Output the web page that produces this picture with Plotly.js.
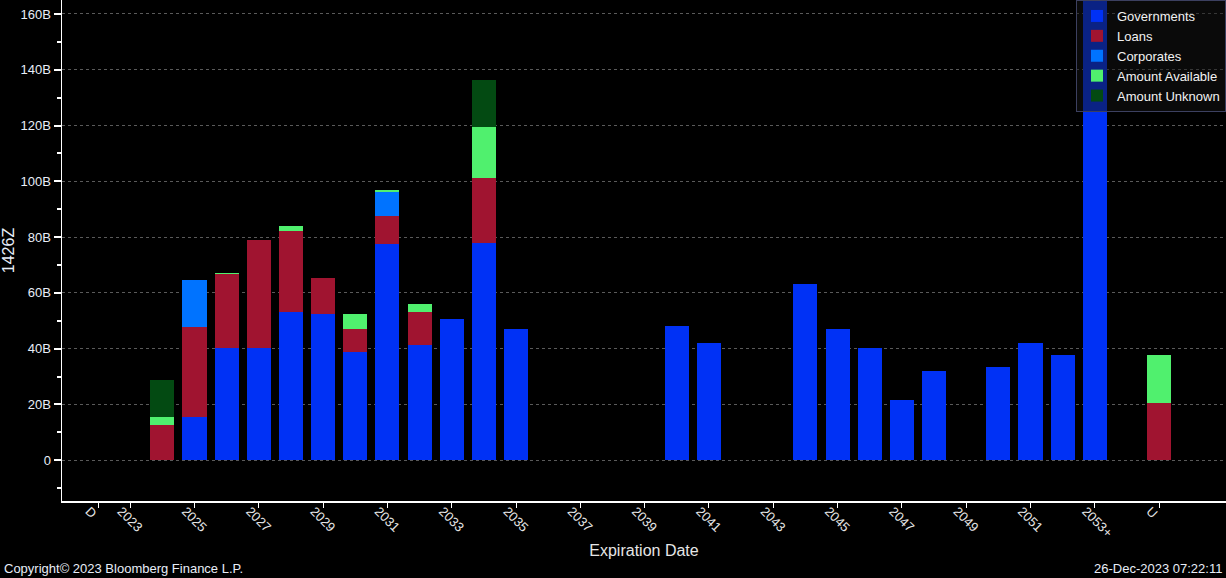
<!DOCTYPE html>
<html>
<head>
<meta charset="utf-8">
<script src="https://cdn.plot.ly/plotly-3.0.1.min.js"></script>
<style>
  html, body { margin: 0; padding: 0; background: #000; }
  #chart { width: 1226px; height: 578px; }
</style>
</head>
<body>
<div id="chart"></div>
<script>
// categories along the x axis (index 32 is an unlabeled slot before U)
const categories = ['D', '2023', '2024', '2025', '2026', '2027', '2028', '2029', '2030', '2031',
    '2032', '2033', '2034', '2035', '2036', '2037', '2038', '2039', '2040', '2041',
    '2042', '2043', '2044', '2045', '2046', '2047', '2048', '2049', '2050', '2051',
    '2052', '2053+', '', 'U'];

// values in billions, one per category (null = no bar)
const governments = [null, null, null, 15.4, 40.4, 40.4, 53.3, 52.6, 38.7, 77.6,
    41.5, 50.8, 78.0, 46.9, null, null, null, null, 48.0, 42.2,
    null, null, 63.3, 47.2, 40.1, 21.5, 31.9, null, 33.3, 42.2,
    37.6, 180, null, null];
const loans = [null, null, 12.5, 32.2, 26.5, 38.6, 28.9, 12.9, 8.2, 10.0,
    11.5, null, 23.2, null, null, null, null, null, null, null,
    null, null, null, null, null, null, null, null, null, null,
    null, null, null, 20.5];
const corporates = [null, null, null, 17.2, null, null, null, null, null, 8.6,
    null, null, null, null, null, null, null, null, null, null,
    null, null, null, null, null, null, null, null, null, null,
    null, null, null, null];
const amountAvailable = [null, null, 2.9, null, 0.4, null, 1.8, null, 5.7, 0.7,
    3.2, null, 18.2, null, null, null, null, null, null, null,
    null, null, null, null, null, null, null, null, null, null,
    null, null, null, 17.1];
const amountUnknown = [null, null, 13.2, null, null, null, null, null, null, null,
    null, null, 17.1, null, null, null, null, null, null, null,
    null, null, null, null, null, null, null, null, null, null,
    null, null, null, null];

// labels shown on the axes
const xTickLabels = ['D', '2023', '2025', '2027', '2029', '2031', '2033', '2035', '2037', '2039',
    '2041', '2043', '2045', '2047', '2049', '2051', '2053+', 'U'];
const yTickValues = [0, 20, 40, 60, 80, 100, 120, 140, 160];

const xIndex = categories.map((c, i) => i);
const font = 'Liberation Sans, Arial, sans-serif';
const textColor = '#e8eef8';

const series = [
    {name: 'Governments', values: governments, color: '#0031f5'},
    {name: 'Loans', values: loans, color: '#a01430'},
    {name: 'Corporates', values: corporates, color: '#0073ff'},
    {name: 'Amount Available', values: amountAvailable, color: '#50f06e'},
    {name: 'Amount Unknown', values: amountUnknown, color: '#034a12'},
];

let dataDraw = series.map(s => ({
    type: 'bar',
    x: xIndex,
    y: s.values,
    name: s.name,
    width: 0.75,
    marker: {color: s.color, line: {width: 0}},
    hoverinfo: 'skip'
}));

let layout = {
    width: 1226,
    height: 578,
    margin: {l: 62, r: 0, t: 0, b: 77},
    paper_bgcolor: '#000',
    plot_bgcolor: '#000',
    barmode: 'stack',
    bargap: 0.25,
    font: {family: font, color: textColor, size: 13},
    showlegend: true,
    legend: {
        x: 1, y: 1, xanchor: 'right', yanchor: 'top',
        traceorder: 'normal',
        bgcolor: 'rgba(20,20,20,0.5)',
        bordercolor: '#3c4060',
        borderwidth: 1,
        font: {family: font, size: 13, color: '#f2f2f2'}
    },
    xaxis: {
        range: [-1.12, 35.08],
        tickmode: 'array',
        tickvals: xTickLabels.map(l => categories.indexOf(l)),
        ticktext: xTickLabels,
        tickangle: 45,
        ticks: 'outside',
        ticklen: 5,
        tickwidth: 1,
        tickcolor: '#ffffff',
        tickfont: {family: font, size: 13, color: '#e6e6e6'},
        ticklabelshift: -9,
        ticklabelstandoff: -9,
        showgrid: false,
        zeroline: false,
        showline: true,
        linecolor: '#ffffff',
        linewidth: 1.5,
        title: {text: 'Expiration Date', font: {family: font, size: 16, color: '#e6e6e6'}, standoff: 5}
    },
    yaxis: {
        range: [-14.6, 165],
        tickmode: 'array',
        tickvals: yTickValues,
        ticktext: yTickValues.map(v => v === 0 ? '0' : v + 'B'),
        ticks: 'outside',
        ticklen: 7,
        tickwidth: 2,
        tickcolor: '#ffffff',
        tickfont: {family: font, size: 13, color: textColor},
        minor: {tickmode: 'linear', tick0: 0, dtick: 10, ticks: 'outside', ticklen: 4, tickcolor: '#ffffff', showgrid: false},
        showgrid: true,
        gridcolor: '#5a5a5a',
        griddash: 'dot',
        gridwidth: 1,
        zeroline: false,
        showline: true,
        linecolor: '#ffffff',
        linewidth: 1.5,
        title: {text: '1426Z', font: {family: font, size: 16, color: textColor}, standoff: 10}
    },
    annotations: [
        {
            text: 'Copyright© 2023 Bloomberg Finance L.P.',
            xref: 'paper', yref: 'paper', x: -0.0515, y: -0.1357,
            xanchor: 'left', yanchor: 'middle', showarrow: false,
            font: {family: font, size: 13, color: textColor}
        },
        {
            text: '26-Dec-2023 07:22:11',
            xref: 'paper', yref: 'paper', x: 0.998, y: -0.1357,
            xanchor: 'right', yanchor: 'middle', showarrow: false,
            font: {family: font, size: 13, color: textColor}
        }
    ]
};

Plotly.newPlot('chart', dataDraw, layout, {staticPlot: true, displayModeBar: false});
</script>
</body>
</html>
